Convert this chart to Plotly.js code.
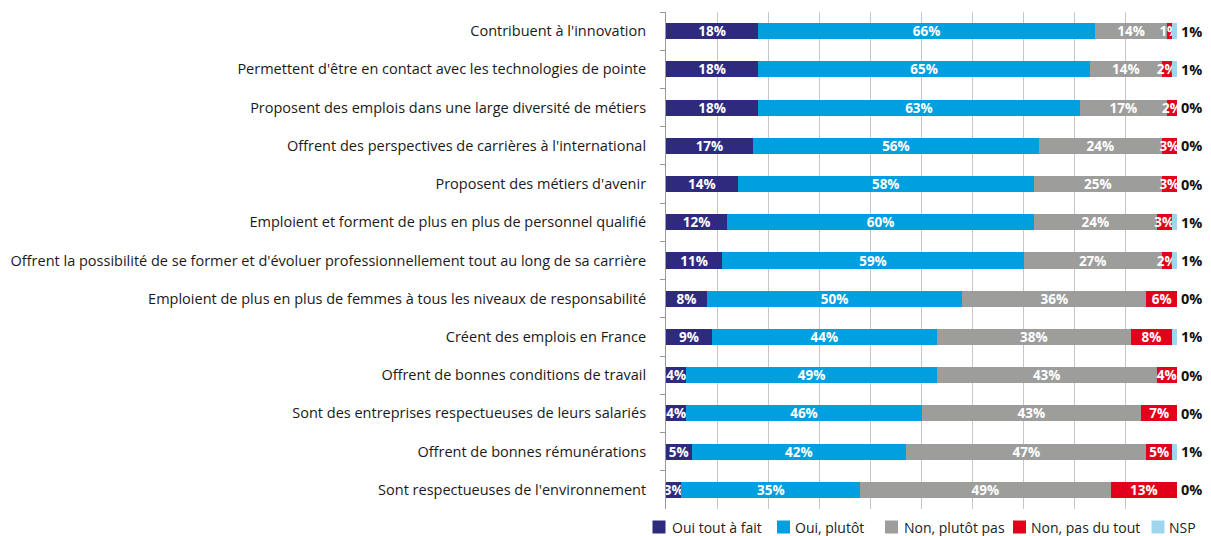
<!DOCTYPE html>
<html>
<head>
<meta charset="utf-8">
<script src="https://cdn.plot.ly/plotly-3.0.1.min.js"></script>
<style>
html,body{margin:0;padding:0;background:#fff;}
#chart{width:1211px;height:536px;}
</style>
</head>
<body>
<div id="chart"></div>
<script>
const categories = [
  "Contribuent à l'innovation",
  "Permettent d'être en contact avec les technologies de pointe",
  "Proposent des emplois dans une large diversité de métiers",
  "Offrent des perspectives de carrières à l'international",
  "Proposent des métiers d'avenir",
  "Emploient et forment de plus en plus de personnel qualifié",
  "Offrent la possibilité de se former et d'évoluer professionnellement tout au long de sa carrière",
  "Emploient de plus en plus de femmes à tous les niveaux de responsabilité",
  "Créent des emplois en France",
  "Offrent de bonnes conditions de travail",
  "Sont des entreprises respectueuses de leurs salariés",
  "Offrent de bonnes rémunérations",
  "Sont respectueuses de l'environnement"
];
const seriesNames = ["Oui tout à fait", "Oui, plutôt", "Non, plutôt pas", "Non, pas du tout", "NSP"];
const ouiToutAFait = [18, 18, 18, 17, 14, 12, 11, 8, 9, 4, 4, 5, 3];
const ouiPlutot    = [66, 65, 63, 56, 58, 60, 59, 50, 44, 49, 46, 42, 35];
const nonPlutotPas = [14, 14, 17, 24, 25, 24, 27, 36, 38, 43, 43, 47, 49];
const nonPasDuTout = [1, 2, 2, 3, 3, 3, 2, 6, 8, 4, 7, 5, 13];
const nsp          = [1, 1, 0, 0, 0, 1, 1, 0, 1, 0, 0, 1, 0];
const colors = ["#2E2A7E", "#009FDF", "#9D9D9C", "#E2001A", "#9ED6EE"];

// layout geometry (pixels)
const W = 1211, H = 536;
const M = {l: 666, r: 34, t: 12, b: 27};
const PW = W - M.l - M.r, PH = H - M.t - M.b;
const px2x = p => (p - M.l) / PW;
const px2y = p => (H - M.b - p) / PH;

// legend placement (pixels): square left edges and text left edges
const legendSquareX = [652.5, 777, 885, 1013, 1151.5];
const legendTextX   = [670, 793, 902, 1029, 1167];
const legendY = 527, legendSq = 13;

const seriesValues = [ouiToutAFait, ouiPlutot, nonPlutotPas, nonPasDuTout, nsp];
const traces = seriesValues.map((vals, i) => ({
  type: 'bar',
  orientation: 'h',
  name: seriesNames[i],
  y: categories,
  x: vals,
  marker: {color: colors[i], line: {width: 0}},
  text: i < 4 ? vals.map(v => v + '%') : null,
  textposition: i < 4 ? 'inside' : 'none',
  insidetextanchor: 'middle',
  textangle: 0,
  textfont: {family: 'Open Sans, sans-serif', size: 13.5, color: '#ffffff', weight: 'bold'},
  cliponaxis: false,
  hoverinfo: 'none',
  showlegend: false
}));

const annotations = categories.map((c, i) => ({
  xref: 'paper', yref: 'y',
  x: 1, y: c,
  xanchor: 'left', yanchor: 'middle',
  xshift: 2,
  text: '<b>' + nsp[i] + '%</b>',
  showarrow: false,
  font: {family: 'Open Sans, sans-serif', size: 14.5, color: '#111111'}
}));

const shapes = [];
seriesNames.forEach((n, i) => {
  shapes.push({
    type: 'rect', xref: 'paper', yref: 'paper',
    x0: px2x(legendSquareX[i]), x1: px2x(legendSquareX[i] + legendSq),
    y0: px2y(legendY + legendSq / 2), y1: px2y(legendY - legendSq / 2),
    fillcolor: colors[i], line: {width: 0}
  });
  annotations.push({
    xref: 'paper', yref: 'paper',
    x: px2x(legendTextX[i]), y: px2y(legendY),
    xanchor: 'left', yanchor: 'middle',
    text: n, showarrow: false,
    font: {family: 'Open Sans, sans-serif', size: 14, color: '#222222'}
  });
});

const layout = {
  width: W, height: H,
  margin: {l: M.l, r: M.r, t: M.t, b: M.b, pad: 0},
  barmode: 'stack',
  bargap: 0.58,
  paper_bgcolor: '#ffffff',
  plot_bgcolor: '#ffffff',
  showlegend: false,
  uniformtext: {mode: 'show', minsize: 13.5},
  xaxis: {
    range: [0, 100],
    dtick: 10,
    showgrid: true,
    gridcolor: '#c6c6c6',
    gridwidth: 1,
    showticklabels: false,
    zeroline: false,
    showline: false,
    fixedrange: true,
    automargin: false
  },
  yaxis: {
    autorange: 'reversed',
    type: 'category',
    showgrid: false,
    showline: true,
    linecolor: '#999999',
    linewidth: 1,
    ticks: 'outside',
    tickson: 'boundaries',
    ticklen: 5,
    tickcolor: '#999999',
    ticklabelstandoff: 16,
    tickfont: {family: 'Open Sans, sans-serif', size: 14.5, color: '#1a1a1a'},
    fixedrange: true,
    automargin: false
  },
  shapes: shapes,
  annotations: annotations
};

Plotly.newPlot('chart', traces, layout, {displayModeBar: false, staticPlot: true});
</script>
</body>
</html>
